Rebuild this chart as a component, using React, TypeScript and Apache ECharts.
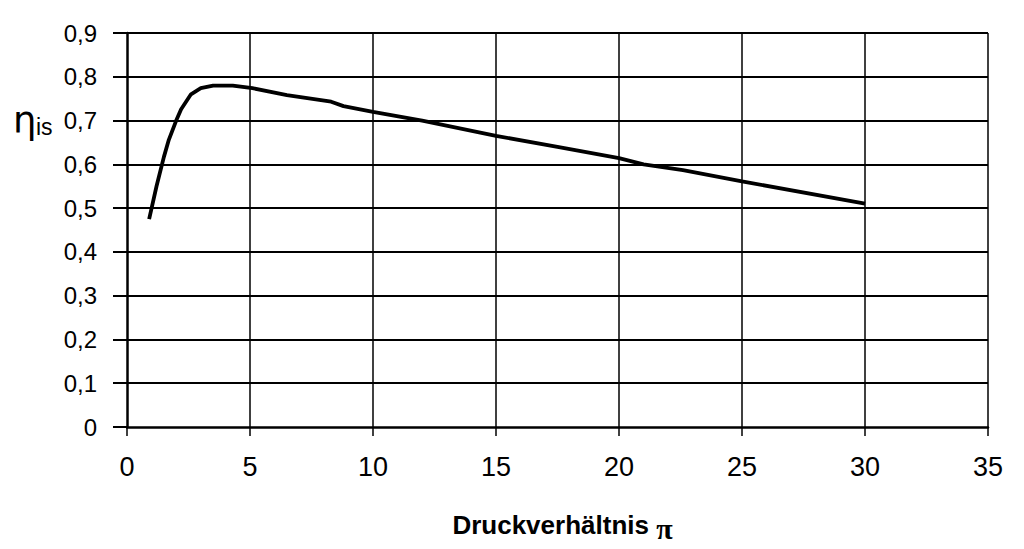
import React, { useEffect, useRef } from "react";
import * as echarts from "echarts";

const pressureRatio = [0.9, 1.2, 1.5, 1.7, 2.0, 2.2, 2.6, 3.0, 3.5, 4.3, 5.1, 6.5, 8.3, 8.8, 10, 12, 15, 17.5, 20, 21, 22.6, 25, 30];
const efficiency = [0.475, 0.55, 0.617, 0.656, 0.7, 0.726, 0.76, 0.774, 0.78, 0.78, 0.774, 0.758, 0.743, 0.733, 0.72, 0.7, 0.665, 0.64, 0.614, 0.6, 0.587, 0.561, 0.51];

const yTickLabels = ["0", "0,1", "0,2", "0,3", "0,4", "0,5", "0,6", "0,7", "0,8", "0,9"];
const xTickLabels = ["0", "5", "10", "15", "20", "25", "30", "35"];

const xAxisTitle = "Druckverhältnis";
const yAxisSymbol = "η";
const yAxisSub = "is";

export default function App() {
  const ref = useRef<HTMLDivElement>(null);
  useEffect(() => {
    if (!ref.current) return;
    const chart = echarts.init(ref.current, null, { renderer: "svg" });
    const font = "'Liberation Sans', Arial, sans-serif";
    chart.setOption({
      animation: false,
      backgroundColor: "#fff",
      grid: { left: 127, right: 36, top: 33, bottom: 122, containLabel: false },
      xAxis: {
        type: "value",
        min: 0,
        max: 35,
        interval: 5,
        axisLine: { show: true, onZero: false, lineStyle: { color: "#000", width: 2.5 } },
        axisTick: { show: true, length: 9, lineStyle: { color: "#000", width: 1.5 } },
        axisLabel: {
          color: "#000",
          fontFamily: font,
          fontSize: 27,
          margin: 26,
          formatter: (v: number) => xTickLabels[Math.round(v / 5)] ?? String(v),
        },
        splitLine: { show: true, showMinLine: false, showMaxLine: true, lineStyle: { color: "#000", width: 1.5 } },
        name: xAxisTitle + " {p|π}",
        nameLocation: "middle",
        nameGap: 80,
        nameTextStyle: {
          color: "#000",
          fontFamily: font,
          fontSize: 26,
          fontWeight: "bold",
          padding: [0, 0, 0, 10],
          rich: {
            p: { fontFamily: "'Liberation Serif', serif", fontSize: 30, fontWeight: "bold", color: "#000", padding: [6, 0, 0, 0] },
          },
        },
      },
      yAxis: {
        type: "value",
        min: 0,
        max: 0.9,
        interval: 0.1,
        axisLine: { show: true, lineStyle: { color: "#000", width: 2.5 } },
        axisTick: { show: true, length: 14, lineStyle: { color: "#000", width: 2 } },
        axisLabel: {
          color: "#000",
          fontFamily: font,
          fontSize: 24,
          margin: 30,
          formatter: (v: number) => yTickLabels[Math.round(v * 10)] ?? String(v),
        },
        splitLine: { show: true, showMinLine: false, showMaxLine: true, lineStyle: { color: "#000", width: 2 } },
      },
      series: [
        {
          type: "line",
          data: pressureRatio.map((x, i) => [x, efficiency[i]]),
          showSymbol: false,
          smooth: false,
          lineStyle: { color: "#000", width: 3.8 },
          z: 5,
        },
      ],
      graphic: [
        {
          type: "text",
          left: 13,
          top: 102,
          style: {
            text: yAxisSymbol,
            fontFamily: "'DejaVu Sans', sans-serif",
            fontSize: 37,
            fill: "#000",
          },
        },
        {
          type: "text",
          left: 36,
          top: 115,
          style: {
            text: yAxisSub,
            fontFamily: font,
            fontSize: 23,
            fill: "#000",
          },
        },
      ],
    });
    return () => chart.dispose();
  }, []);
  return <div ref={ref} style={{ position: "fixed", left: 0, top: 0, width: 1024, height: 549 }} />;
}
